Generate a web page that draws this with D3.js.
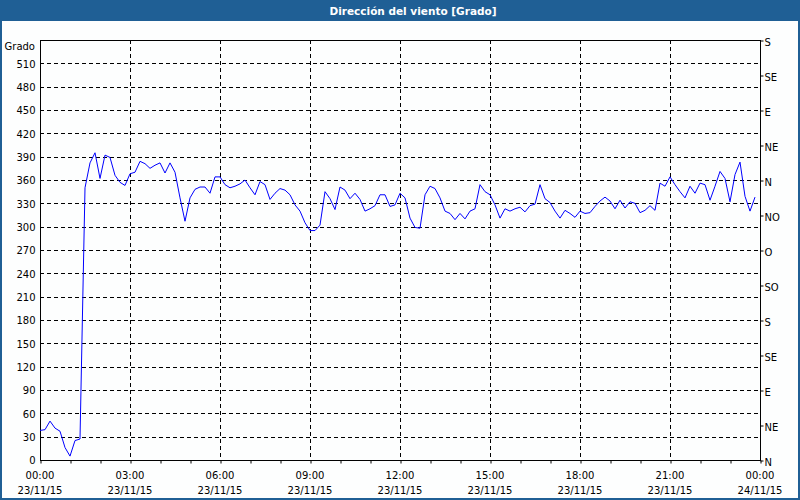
<!DOCTYPE html>
<html>
<head>
<meta charset="utf-8">
<script src="https://cdn.jsdelivr.net/npm/d3@7"></script>
<style>
  html, body { margin: 0; padding: 0; background: #fdfefe; }
  svg { display: block; }
</style>
</head>
<body>
<svg id="chart" width="800" height="500"></svg>
<script>
// ---- data ----
const title = "Dirección del viento [Grado]";
const yUnit = "Grado";
const stepMinutes = 10;
const direction = [
  38,39,50,41,37,16,5,25,27,
  350,382,395,
  362,392,389,366,357,353,368,370,384,381,375,379,382,369,382,370,
  337,307,337,348,351,351,343,364,364,354,350,352,355,
  360,350,341,358,354,335,343,349,347,341,328,320,305,295,295,302,
  345,336,322,351,347,336,343,335,320,323,327,341,341,326,328,343,
  337,311,299,298,341,352,349,337,320,317,309,317,310,320,323,354,345,341,328,311,
  323,320,323,325,319,327,329,354,336,331,320,311,321,317,312,320,317,318,326,333,
  338,333,323,334,324,332,330,318,321,327,321,356,352,364,354,345,337,352,343,356,
  354,334,352,371,362,332,367,383,339,320,338
];
const yTicks = [0,30,60,90,120,150,180,210,240,270,300,330,360,390,420,450,480,510];
const compassValues = [0,45,90,135,180,225,270,315,360,405,450,495,540];
const compassLabels = ["N","NE","E","SE","S","SO","O","NO","N","NE","E","SE","S"];
const xMajorTicks = [0,180,360,540,720,900,1080,1260,1440];
const xTimeLabels = ["00:00","03:00","06:00","09:00","12:00","15:00","18:00","21:00","00:00"];
const xDateLabels = ["23/11/15","23/11/15","23/11/15","23/11/15","23/11/15","23/11/15","23/11/15","23/11/15","24/11/15"];
const xMinorTicks = d3.range(0, 1441, 60);

// ---- layout ----
const W = 800, H = 500;
const plot = {left: 40, right: 760, top: 40, bottom: 460};
const font = "'DejaVu Sans', Verdana, sans-serif";

const svg = d3.select("#chart");
const x = d3.scaleLinear().domain([0, 1440]).range([plot.left, plot.right]);
const y = d3.scaleLinear().domain([0, 540]).range([plot.bottom, plot.top]);

svg.append("rect").attr("width", W).attr("height", H).attr("fill", "#fdfefe");

// title bar
svg.append("rect").attr("x", 0).attr("y", 0).attr("width", W).attr("height", 21).attr("fill", "#1f5f95");
svg.append("text").attr("x", 413).attr("y", 14.5).attr("text-anchor", "middle")
  .attr("fill", "#ffffff").attr("font-family", font).attr("font-weight", "bold")
  .attr("font-size", "10.5px").text(title);

// grid
const grid = svg.append("g").attr("stroke", "#000").attr("stroke-dasharray", "4,3").attr("stroke-width", 1);
grid.selectAll("line.h").data(yTicks.filter(v => v > 0)).join("line")
  .attr("x1", plot.left).attr("x2", plot.right)
  .attr("y1", d => Math.round(y(d)) + 0.5).attr("y2", d => Math.round(y(d)) + 0.5);
grid.selectAll("line.v").data(xMajorTicks.filter(v => v > 0 && v < 1440)).join("line")
  .attr("y1", plot.top).attr("y2", plot.bottom)
  .attr("x1", d => Math.round(x(d)) + 0.5).attr("x2", d => Math.round(x(d)) + 0.5);

// left axis
const left = svg.append("g").attr("transform", `translate(${plot.left + 0.5},0.5)`)
  .call(d3.axisLeft(y).tickValues(yTicks).tickSize(0).tickPadding(5));
left.select(".domain").remove();
left.selectAll("text").attr("font-family", font).attr("font-size", "10px").attr("fill", "#000");

svg.append("text").attr("x", 35).attr("y", 49.5).attr("text-anchor", "end")
  .attr("font-family", font).attr("font-size", "10px").attr("fill", "#000").text(yUnit);

// right axis
const right = svg.append("g").attr("transform", `translate(${plot.right + 0.5},0.5)`)
  .call(d3.axisRight(y).tickValues(compassValues).tickSize(3).tickPadding(1)
    .tickFormat((d, i) => compassLabels[i]));
right.select(".domain").remove();
right.selectAll("line").attr("stroke", "#000");
right.selectAll("text").attr("font-family", font).attr("font-size", "10px").attr("fill", "#000").attr("dy", "0.45em");

// bottom axis
const bottom = svg.append("g").attr("transform", `translate(0.5,${plot.bottom + 0.5})`)
  .call(d3.axisBottom(x).tickValues(xMinorTicks).tickSize(3).tickFormat(""));
bottom.select(".domain").remove();
bottom.selectAll("line").attr("stroke", "#000");

const lbl = svg.append("g").attr("font-family", font).attr("font-size", "10px").attr("fill", "#000").attr("text-anchor", "middle");
lbl.selectAll("text.t").data(xMajorTicks).join("text")
  .attr("x", d => x(d)).attr("y", 478.5).text((d, i) => xTimeLabels[i]);
lbl.selectAll("text.d").data(xMajorTicks).join("text")
  .attr("x", d => x(d)).attr("y", 493.5).text((d, i) => xDateLabels[i]);

// plot frame
svg.append("rect").attr("x", plot.left + 0.5).attr("y", plot.top + 0.5)
  .attr("width", plot.right - plot.left).attr("height", plot.bottom - plot.top)
  .attr("fill", "none").attr("stroke", "#000").attr("stroke-width", 1);

// line
const pts = direction.map((v, i) => ({t: i * stepMinutes, v}));
svg.append("path").datum(pts)
  .attr("fill", "none").attr("stroke", "#0000ff").attr("stroke-width", 1)
  .attr("d", d3.line().x(d => x(d.t)).y(d => y(d.v)));

// outer border
svg.append("rect").attr("x", 1).attr("y", 1).attr("width", W - 2).attr("height", H - 2)
  .attr("fill", "none").attr("stroke", "#1f5f95").attr("stroke-width", 2);
</script>
</body>
</html>
